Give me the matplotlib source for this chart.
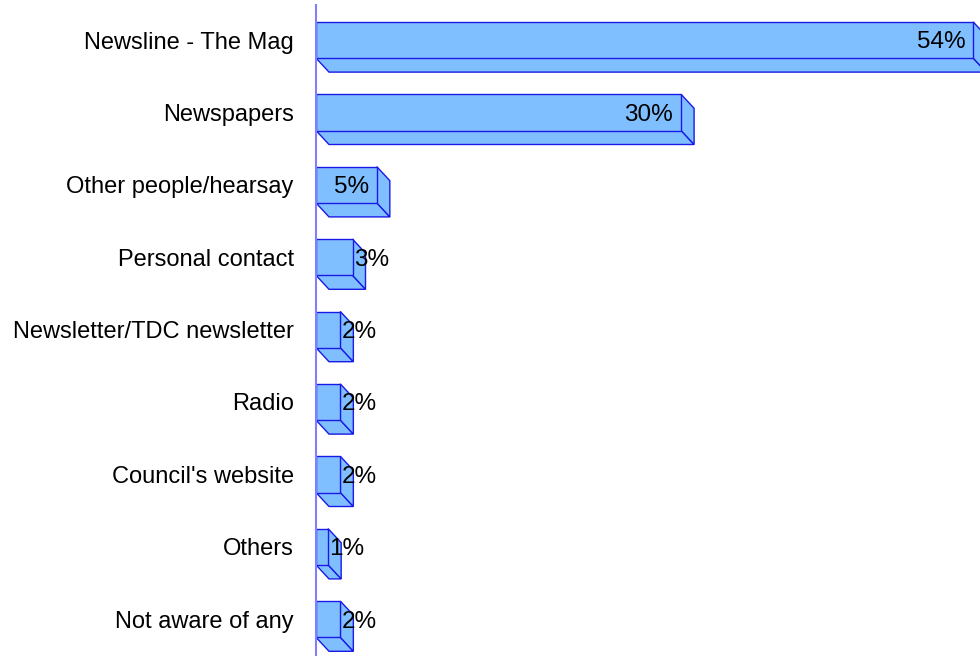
import matplotlib.pyplot as plt
from matplotlib.patches import Polygon

categories = ['Newsline - The Mag', 'Newspapers', 'Other people/hearsay',
              'Personal contact', 'Newsletter/TDC newsletter', 'Radio',
              "Council's website", 'Others', 'Not aware of any']
values = [54, 30, 5, 3, 2, 2, 2, 1, 2]
value_labels = ['54%', '30%', '5%', '3%', '2%', '2%', '2%', '1%', '2%']

plt.rcParams['font.family'] = ['Liberation Sans', 'DejaVu Sans']

fig = plt.figure(figsize=(9.8, 6.56), dpi=100)
ax = fig.add_axes([316 / 980, 0, 664 / 980, 651 / 656])

px_per_x = 12.17
px_per_row = 72.4
ax.set_xlim(0, 664 / px_per_x)
ax.set_ylim((656 - 40) / px_per_row, (5 - 40) / px_per_row)

fill = '#80bfff'
edge = '#1a1ae6'
h = 0.25
dx = 13 / px_per_x
dy = 14 / px_per_row

for i, v in enumerate(values):
    top, bot = i - h, i + h
    bottom_face = [(0, bot), (v, bot), (v + dx, bot + dy), (dx, bot + dy)]
    side_face = [(v, top), (v + dx, top + dy), (v + dx, bot + dy), (v, bot)]
    front = [(0, top), (v, top), (v, bot), (0, bot)]
    for pts in (bottom_face, side_face, front):
        ax.add_patch(Polygon(pts, closed=True, facecolor=fill, edgecolor=edge,
                             linewidth=1, clip_on=False))
    if v >= 5:
        ax.text(v - 0.65, i, value_labels[i], ha='right', va='center_baseline', fontsize=17.5)
    else:
        ax.text(v + 0.1, i, value_labels[i], ha='left', va='center_baseline', fontsize=17.5)

ax.set_yticks(range(len(categories)))
ax.set_yticklabels(categories, fontsize=17)
ax.set_xticks([])
ax.tick_params(axis='y', length=0, pad=16)
for s in ['top', 'right', 'bottom']:
    ax.spines[s].set_visible(False)
ax.spines['left'].set_color('#8080ff')
ax.spines['left'].set_linewidth(1.5)
ax.patch.set_visible(False)

plt.savefig('out.png')
